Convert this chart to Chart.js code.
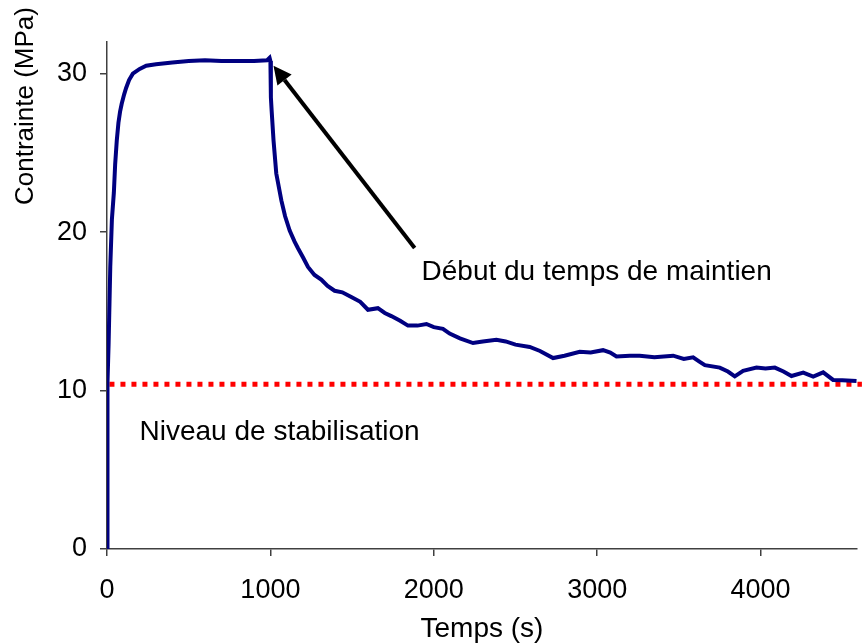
<!DOCTYPE html>
<html lang="fr">
<head>
  <meta charset="UTF-8" />
  <title>Contrainte - temps de maintien</title>
  <script src="https://cdn.jsdelivr.net/npm/chart.js"></script>
  <style>
    html, body { margin: 0; padding: 0; background: #fff; }
    .chart-container { width: 868px; height: 644px; }
  </style>
</head>
<body>
  <div class="chart-container">
    <canvas id="stressChart"></canvas>
  </div>

  <script>
    // values
    const timeS = [0, 2, 4, 10, 20, 30, 42, 50, 60, 70, 80, 90, 105, 117, 135, 158, 200, 240, 300, 400,
      500, 600, 700, 800, 900, 980, 995, 1000, 1003, 1008, 1019, 1036, 1067, 1090, 1118, 1148, 1168, 1200,
      1230, 1270, 1311, 1350, 1393, 1440, 1495, 1550, 1597, 1658, 1700, 1740, 1794, 1842, 1900, 1955, 2000,
      2056, 2097, 2160, 2240, 2300, 2383, 2440, 2500, 2587, 2650, 2730, 2800, 2893, 2960, 3036, 3080, 3118,
      3200, 3260, 3350, 3465, 3530, 3587, 3630, 3659, 3750, 3800, 3842, 3893, 3975, 4030, 4087, 4140, 4189,
      4261, 4322, 4383, 4444, 4500, 4587];
    const stressMPa = [0, 9.0, 10.5, 13.0, 17.8, 20.8, 22.5, 24.3, 25.8, 26.9, 27.6, 28.1, 28.7, 29.1, 29.6, 30.0, 30.3, 30.5, 30.6, 30.7,
      30.8, 30.85, 30.8, 30.8, 30.8, 30.85, 31.0, 30.8, 28.5, 27.6, 25.8, 23.7, 22.0, 21.0, 20.1, 19.4, 19.0, 18.4,
      17.8, 17.3, 17.0, 16.6, 16.3, 16.2, 15.9, 15.6, 15.1, 15.2, 14.9, 14.7, 14.4, 14.1, 14.1, 14.2, 14.0,
      13.9, 13.6, 13.3, 13.0, 13.1, 13.2, 13.1, 12.9, 12.75, 12.5, 12.05, 12.2, 12.45, 12.4, 12.55, 12.4, 12.15,
      12.2, 12.2, 12.1, 12.2, 12.0, 12.1, 11.8, 11.6, 11.45, 11.2, 10.9, 11.25, 11.45, 11.4, 11.45, 11.2, 10.92,
      11.13, 10.88, 11.15, 10.67, 10.65, 10.6];

    const stabTime = [15, 4620];
    const stabLevel = [10.4, 10.4];

    const xTicks = [0, 1000, 2000, 3000, 4000];
    const yTicks = [0, 10, 20, 30];

    const arrowTip = { x: 1019, y: 30.5 };
    const arrowTail = { x: 1883, y: 19.0 };
    const holdLabel = { x: 1925, y: 17.0, text: 'Début du temps de maintien' };
    const stabLabel = { x: 199, y: 6.9, text: 'Niveau de stabilisation' };

    const FONT = '"Liberation Sans", Arial, sans-serif';

    const toPoints = (xs, ys) => xs.map((x, i) => ({ x: x, y: ys[i] }));

    // arrow, annotations and axis titles
    const extrasPlugin = {
      id: 'extras',
      afterDatasetsDraw(chart) {
        const c = chart.ctx;
        const xs = chart.scales.x, ys = chart.scales.y;
        const area = chart.chartArea;

        // arrow
        const tx = xs.getPixelForValue(arrowTip.x), ty = ys.getPixelForValue(arrowTip.y);
        const sx = xs.getPixelForValue(arrowTail.x), sy = ys.getPixelForValue(arrowTail.y);
        const ang = Math.atan2(ty - sy, tx - sx);
        const headLen = 18, headHalf = 9;
        const bx = tx - headLen * Math.cos(ang), by = ty - headLen * Math.sin(ang);
        c.save();
        c.strokeStyle = '#000';
        c.fillStyle = '#000';
        c.lineWidth = 4;
        c.beginPath();
        c.moveTo(sx, sy);
        c.lineTo(bx, by);
        c.stroke();
        c.beginPath();
        c.moveTo(tx, ty);
        c.lineTo(bx + headHalf * Math.sin(ang), by - headHalf * Math.cos(ang));
        c.lineTo(bx - headHalf * Math.sin(ang), by + headHalf * Math.cos(ang));
        c.closePath();
        c.fill();

        // annotations
        c.font = '28px ' + FONT;
        c.fillStyle = '#000';
        c.textAlign = 'left';
        c.textBaseline = 'alphabetic';
        c.fillText(holdLabel.text, xs.getPixelForValue(holdLabel.x), ys.getPixelForValue(holdLabel.y));
        c.fillText(stabLabel.text, xs.getPixelForValue(stabLabel.x), ys.getPixelForValue(stabLabel.y));

        // x title
        c.textAlign = 'center';
        c.fillText('Temps (s)', (area.left + area.right) / 2, 637);

        // y title
        c.font = '26px ' + FONT;
        c.translate(33, 106);
        c.rotate(-Math.PI / 2);
        c.fillText('Contrainte (MPa)', 0, 0);
        c.restore();
      }
    };

    const ctx = document.getElementById('stressChart').getContext('2d');

    new Chart(ctx, {
      type: 'scatter',
      data: {
        datasets: [
          {
            label: 'Contrainte',
            data: toPoints(timeS, stressMPa),
            showLine: true,
            borderColor: '#000080',
            backgroundColor: '#000080',
            borderWidth: 4,
            pointRadius: 0,
            tension: 0
          },
          {
            label: 'Niveau de stabilisation',
            data: toPoints(stabTime, stabLevel),
            showLine: true,
            borderColor: '#ff0000',
            borderWidth: 5,
            borderDash: [5, 6],
            borderCapStyle: 'butt',
            pointRadius: 0,
            clip: false
          }
        ]
      },
      options: {
        responsive: true,
        maintainAspectRatio: false,
        animation: false,
        layout: { padding: { top: 42, right: 11, left: 0, bottom: 0 } },
        plugins: {
          legend: { display: false },
          tooltip: { enabled: false }
        },
        scales: {
          x: {
            type: 'linear',
            min: 0,
            max: 4590,
            afterFit(scale) { scale.height = 95; },
            afterBuildTicks(scale) { scale.ticks = xTicks.map(v => ({ value: v })); },
            border: { display: true, color: '#404040', width: 1.5 },
            grid: { drawOnChartArea: false, drawTicks: true, tickLength: 7, color: '#404040', lineWidth: 1.5 },
            ticks: { color: '#000', font: { family: FONT, size: 27 }, padding: 18, maxRotation: 0,
              callback: v => String(v) }
          },
          y: {
            min: 0,
            max: 32,
            afterFit(scale) { scale.width = 107; },
            afterBuildTicks(scale) { scale.ticks = yTicks.map(v => ({ value: v })); },
            border: { display: true, color: '#404040', width: 1.5 },
            grid: { drawOnChartArea: false, drawTicks: true, tickLength: 7, color: '#404040', lineWidth: 1.5 },
            ticks: { color: '#000', font: { family: FONT, size: 27 }, padding: 13,
              callback: v => String(v) }
          }
        }
      },
      plugins: [extrasPlugin]
    });
  </script>
</body>
</html>
